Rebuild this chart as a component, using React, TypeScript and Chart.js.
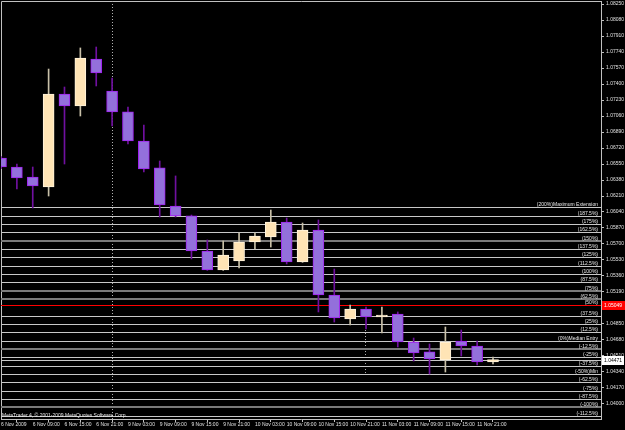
import React, { useEffect, useRef } from 'react';
import { Chart, registerables } from 'chart.js';
Chart.register(...registerables);

const xLabels = [
  '6 Nov 2009', '6 Nov 09:00', '6 Nov 15:00', '6 Nov 21:00',
  '9 Nov 03:00', '9 Nov 09:00', '9 Nov 15:00', '9 Nov 21:00',
  '10 Nov 03:00', '10 Nov 09:00', '10 Nov 15:00', '10 Nov 21:00',
  '11 Nov 03:00', '11 Nov 09:00', '11 Nov 15:00', '11 Nov 21:00',
];

const opens = [
  1.06614, 1.06518, 1.06412, 1.06306, 1.07294, 1.07166, 1.07666, 1.07326,
  1.07103, 1.06794, 1.06508, 1.06104, 1.05998, 1.05626, 1.05424, 1.05519,
  1.05721, 1.05774, 1.05934, 1.05509, 1.05849, 1.05158, 1.04903, 1.05009,
  1.04924, 1.04956, 1.04659, 1.04553, 1.04468, 1.04669, 1.04616, 1.04446,
];
const highs = [
  1.06630, 1.06550, 1.06518, 1.07559, 1.07368, 1.07783, 1.07793, 1.07464,
  1.07156, 1.06964, 1.06582, 1.06423, 1.06008, 1.05743, 1.05732, 1.05817,
  1.05820, 1.06061, 1.05976, 1.05923, 1.05955, 1.05434, 1.05052, 1.05031,
  1.05031, 1.04978, 1.04701, 1.04638, 1.04818, 1.04786, 1.04669, 1.04499,
];
const lows = [
  1.06500, 1.06284, 1.06083, 1.06210, 1.06550, 1.07060, 1.07379, 1.06954,
  1.06763, 1.06465, 1.05987, 1.05987, 1.05541, 1.05420, 1.05420, 1.05445,
  1.05647, 1.05668, 1.05488, 1.05505, 1.04978, 1.04871, 1.04839, 1.04797,
  1.04754, 1.04606, 1.04457, 1.04319, 1.04340, 1.04510, 1.04414, 1.04425,
];
const closes = [
  1.06518, 1.06401, 1.06316, 1.07294, 1.07166, 1.07676, 1.07517, 1.07103,
  1.06794, 1.06497, 1.06114, 1.05998, 1.05626, 1.05424, 1.05583, 1.05721,
  1.05785, 1.05934, 1.05509, 1.05849, 1.05158, 1.04914, 1.05009, 1.04924,
  1.04946, 1.04659, 1.04542, 1.04478, 1.04659, 1.04616, 1.04446, 1.04471,
];

const yTicks = [
  1.0825, 1.0808, 1.0791, 1.0774, 1.0757, 1.0740, 1.0723, 1.0706, 1.0689,
  1.0672, 1.0655, 1.0638, 1.0621, 1.0604, 1.0587, 1.0570, 1.0553, 1.0536,
  1.0519, 1.0502, 1.0485, 1.0468, 1.0451, 1.0434, 1.0417, 1.0400,
];

const levelNames = [
  '(200%)Maximum Extension', '(187.5%)', '(175%)', '(162.5%)', '(150%)',
  '(137.5%)', '(125%)', '(112.5%)', '(100%)', '(87.5%)', '(75%)', '(62.5%)',
  '(50%)', '(37.5%)', '(25%)', '(12.5%)', '(0%)Median Entry', '(-12.5%)',
  '(-25%)', '(-37.5%)', '(-50%)Min', '(-62.5%)', '(-75%)', '(-87.5%)',
  '(-100%)', '(-112.5%)',
];
const levelPrices = [
  1.06090, 1.06001, 1.05913, 1.05824, 1.05736, 1.05647, 1.05559, 1.05470,
  1.05382, 1.05293, 1.05205, 1.05116, 1.05049, 1.04939, 1.04850, 1.04762,
  1.04673, 1.04585, 1.04496, 1.04408, 1.04319, 1.04231, 1.04142, 1.04054,
  1.03965, 1.03876,
];
const heavyLevels = ['(150%)', '(75%)', '(62.5%)', '(-12.5%)', '(-100%)'];
const redLevel = '(50%)';
const redPrice = 1.05049;
const markerPrice = 1.04471;
const separatorIdx = [7];
const shortSeparator = { idx: 23, from: 1.04786, to: 1.04329 };

const FONT = 'Liberation Sans, Arial, sans-serif';

const zeroPad = (s: any) => {
  s.paddingTop = 0;
  s.paddingBottom = 0;
  s.paddingLeft = 0;
  s.paddingRight = 0;
};

const overlay = {
  id: 'overlay',
  beforeDatasetsDraw(chart: any) {
    const { ctx, chartArea: a, scales } = chart;
    const x = scales.x, y = scales.y;
    ctx.save();
    ctx.beginPath();
    ctx.rect(a.left - 1, a.top - 1, a.right - a.left + 1, a.bottom - a.top + 1);
    ctx.clip();
    ctx.strokeStyle = '#c0c0c0';
    ctx.lineWidth = 1;
    ctx.beginPath();
    ctx.moveTo(a.left + 0.5, a.bottom);
    ctx.lineTo(a.left + 0.5, a.top + 0.5);
    ctx.lineTo(a.right, a.top + 0.5);
    ctx.stroke();
    ctx.setLineDash([1, 2]);
    ctx.strokeStyle = '#b0b0b0';
    separatorIdx.forEach((i) => {
      const px = Math.round(x.getPixelForValue(i)) + 0.5;
      ctx.beginPath();
      ctx.moveTo(px, a.top);
      ctx.lineTo(px, a.bottom);
      ctx.stroke();
    });
    {
      const px = Math.round(x.getPixelForValue(shortSeparator.idx)) - 0.5;
      ctx.beginPath();
      ctx.moveTo(px, y.getPixelForValue(shortSeparator.from));
      ctx.lineTo(px, y.getPixelForValue(shortSeparator.to));
      ctx.stroke();
    }
    ctx.setLineDash([]);
    levelPrices.forEach((p, i) => {
      const name = levelNames[i];
      const py = Math.round(y.getPixelForValue(p));
      const heavy = heavyLevels.includes(name);
      const red = name === redLevel;
      ctx.beginPath();
      if (heavy) {
        ctx.strokeStyle = '#7a7a7a';
        ctx.lineWidth = 2;
        ctx.moveTo(a.left, py);
        ctx.lineTo(a.right, py);
      } else {
        ctx.strokeStyle = red ? '#ff0000' : '#c8c8c8';
        ctx.lineWidth = 1;
        ctx.moveTo(a.left, py + 0.5);
        ctx.lineTo(a.right, py + 0.5);
      }
      ctx.stroke();
      ctx.fillStyle = '#e8e8e8';
      ctx.font = `5px ${FONT}`;
      ctx.textAlign = 'right';
      ctx.textBaseline = 'alphabetic';
      ctx.fillText(name, a.right - 3, py - 1.5);
    });
    {
      const py = Math.round(y.getPixelForValue(markerPrice)) + 0.5;
      ctx.strokeStyle = '#c8c8c8';
      ctx.lineWidth = 1;
      ctx.beginPath();
      ctx.moveTo(a.left, py);
      ctx.lineTo(a.right, py);
      ctx.stroke();
    }
    ctx.restore();
  },
  afterDraw(chart: any) {
    const { ctx, chartArea: a, scales } = chart;
    const y = scales.y;
    ctx.save();
    ctx.font = `5px ${FONT}`;
    ctx.textBaseline = 'middle';
    ctx.textAlign = 'left';
    let py = Math.round(y.getPixelForValue(redPrice));
    ctx.fillStyle = '#ff0000';
    ctx.fillRect(a.right + 1, py - 4, 24, 9);
    ctx.fillStyle = '#ffffff';
    ctx.fillText(redPrice.toFixed(5), a.right + 3, py + 0.5);
    py = Math.round(y.getPixelForValue(markerPrice));
    ctx.fillStyle = '#ffffff';
    ctx.fillRect(a.right + 1, py - 4, 22, 9);
    ctx.fillStyle = '#000000';
    ctx.fillText(markerPrice.toFixed(5), a.right + 3, py + 0.5);
    ctx.fillStyle = '#e8e8e8';
    ctx.textBaseline = 'alphabetic';
    ctx.fillText('MetaTrader 4, \u00a9 2001-2009 MetaQuotes Software Corp.', a.left + 1, a.bottom - 2);
    ctx.restore();
  },
};

export default function App() {
  const ref = useRef<HTMLCanvasElement>(null);
  useEffect(() => {
    document.body.style.margin = '0';
    document.body.style.background = '#000';
    const idx = opens.map((_, i) => i);
    const bull = idx.map((i) => closes[i] >= opens[i]);
    const chart = new Chart(ref.current as HTMLCanvasElement, {
      type: 'bar',
      data: {
        datasets: [
          {
            order: 0,
            data: idx.map((i) => ({ x: i, y: [opens[i], closes[i]] })) as any,
            backgroundColor: bull.map((b) => (b ? '#FFE4B5' : '#9370DB')),
            borderColor: bull.map((b) => (b ? '#FFF3DC' : '#A020F0')),
            borderWidth: 1,
            borderSkipped: false,
            barThickness: 11,
            grouped: false,
          } as any,
          {
            order: 1,
            data: idx.map((i) => ({ x: i, y: [lows[i], highs[i]] })) as any,
            backgroundColor: bull.map((b) => (b ? '#C8C0A8' : '#7010A0')),
            borderWidth: 0,
            barThickness: 1,
            grouped: false,
          } as any,
        ],
      },
      options: {
        animation: false,
        responsive: false,
        maintainAspectRatio: false,
        layout: { padding: { left: 1, top: 1, right: 0, bottom: 0 } },
        plugins: { legend: { display: false }, tooltip: { enabled: false } },
        scales: {
          x: {
            type: 'linear',
            min: 0,
            max: 37.805,
            offset: false,
            afterBuildTicks: (s: any) => {
              s.ticks = xLabels.map((_, i) => ({ value: i * 2 }));
            },
            afterFit: (s: any) => { s.height = 11; zeroPad(s); },
            ticks: {
              callback: (_v: any, i: number) => xLabels[i],
              color: '#e0e0e0',
              font: { size: 5, family: FONT },
              align: 'start',
              autoSkip: false,
              maxRotation: 0,
              minRotation: 0,
              padding: 0,
            },
            grid: { drawOnChartArea: false, drawTicks: true, tickLength: 3, color: '#c0c0c0' },
            border: { display: true, color: '#c0c0c0', width: 1 },
          },
          y: {
            type: 'linear',
            position: 'right',
            min: 1.038406,
            max: 1.082819,
            offset: false,
            afterBuildTicks: (s: any) => {
              s.ticks = yTicks.map((v) => ({ value: v }));
            },
            afterFit: (s: any) => { s.width = 24; zeroPad(s); },
            ticks: {
              callback: (v: any) => Number(v).toFixed(5),
              color: '#e0e0e0',
              font: { size: 5, family: FONT },
              autoSkip: false,
              padding: 2,
            },
            grid: { drawOnChartArea: false, drawTicks: true, tickLength: 3, color: '#c0c0c0' },
            border: { display: true, color: '#c0c0c0', width: 1 },
          },
        },
      } as any,
      plugins: [overlay],
    });
    return () => chart.destroy();
  }, []);
  return (
    <div style={{ width: 625, height: 430, background: '#000' }}>
      <canvas ref={ref} width={625} height={430} style={{ display: 'block' }} />
    </div>
  );
}
